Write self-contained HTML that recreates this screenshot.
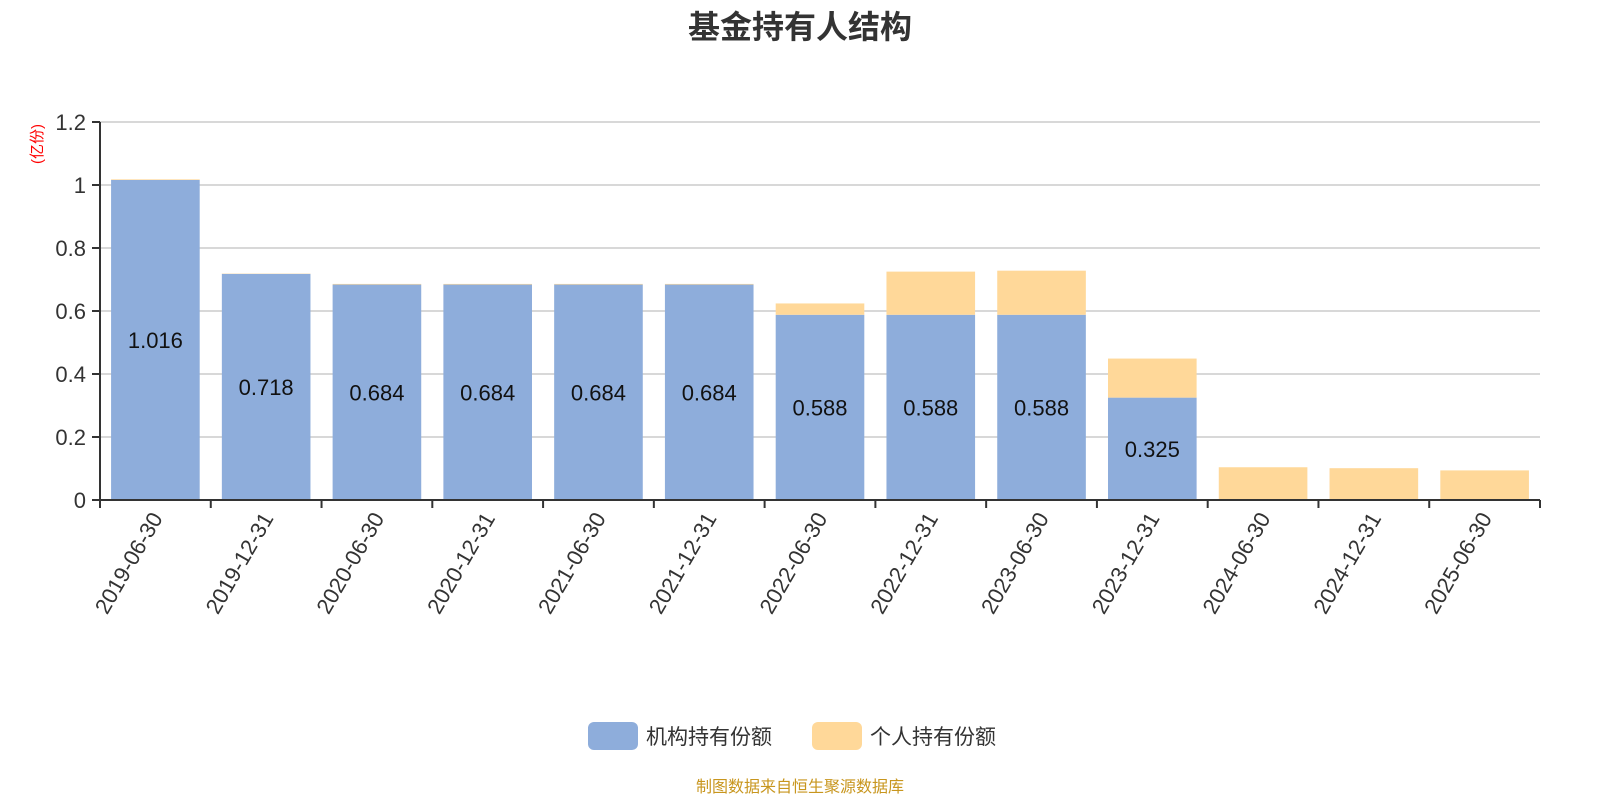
<!DOCTYPE html>
<html><head><meta charset="utf-8"><style>
body{margin:0;background:#fff;}
svg text{font-family:"Liberation Sans","Noto Sans CJK SC",sans-serif;}
</style></head><body>
<svg width="1600" height="800" viewBox="0 0 1600 800" xmlns="http://www.w3.org/2000/svg">
<text x="800" y="38" text-anchor="middle" font-size="32" font-weight="bold" fill="#333">基金持有人结构</text>
<text transform="translate(42,144) rotate(-90)" text-anchor="middle" font-size="15" fill="#f00">(亿份)</text>
<g id="grid"></g><g id="bars"></g><g id="axes"></g>
<g>
<g><rect x="588" y="722" width="50" height="28" rx="6" fill="#8eaddb"/><text x="646" y="744" font-size="21" fill="#333">机构持有份额</text></g>
<g><rect x="812" y="722" width="50" height="28" rx="6" fill="#ffd899"/><text x="870" y="744" font-size="21" fill="#333">个人持有份额</text></g>
</g>
<text x="800" y="792" text-anchor="middle" font-size="16" fill="#c8961e">制图数据来自恒生聚源数据库</text>
</svg>
<script>
const categories=["2019-06-30","2019-12-31","2020-06-30","2020-12-31","2021-06-30","2021-12-31","2022-06-30","2022-12-31","2023-06-30","2023-12-31","2024-06-30","2024-12-31","2025-06-30"];
const institution=[1.016,0.718,0.684,0.684,0.684,0.684,0.588,0.588,0.588,0.325,0,0,0];
const individual=[0.002,0.001,0.002,0.002,0.002,0.002,0.036,0.137,0.140,0.124,0.104,0.101,0.094];
const yTicks=[0,0.2,0.4,0.6,0.8,1,1.2];
const NS="http://www.w3.org/2000/svg";
const x0=100,x1=1540,yBase=500,yTop=122,yMax=1.2;
const band=(x1-x0)/categories.length;
const y=v=>yBase-(v/yMax)*(yBase-yTop);
const xc=i=>x0+band*(i+0.5);
function mk(tag,attrs,parent){const e=document.createElementNS(NS,tag);for(const k in attrs)e.setAttribute(k,attrs[k]);parent.appendChild(e);return e;}
const grid=document.getElementById('grid'),bars=document.getElementById('bars'),axes=document.getElementById('axes');
yTicks.forEach(t=>{
 if(t>0){const l=mk('line',{x1:x0,x2:x1,y1:y(t),y2:y(t),stroke:'#ccc','stroke-width':1.5},grid);
 
 }
 const tk=mk('line',{x1:x0-8,x2:x0,y1:y(t),y2:y(t),stroke:'#333','stroke-width':2},axes);
 
 
 const tx=mk('text',{x:x0-14,y:y(t)+8,'text-anchor':'end','font-size':22,fill:'#333'},axes);
 tx.textContent=String(t);
 
 
});
const bw=band*0.8;
categories.forEach((c,i)=>{
 const a=institution[i],b=individual[i];
 if(a>0){const r=mk('rect',{x:xc(i)-bw/2,y:y(a),width:bw,height:y(0)-y(a),fill:'#8eaddb'},bars);
  
  
  const t=mk('text',{x:xc(i),y:(y(a)+y(0))/2+8,'text-anchor':'middle','font-size':22,fill:'#111'},bars);
  t.textContent=a.toFixed(3).replace(/^1\.0160$/,'1.016');
  
  }
 if(b>0){const r=mk('rect',{x:xc(i)-bw/2,y:y(a+b),width:bw,height:y(a)-y(a+b),fill:'#ffd899'},bars);
  
  }
 const tk=mk('line',{x1:x0+band*i,x2:x0+band*i,y1:yBase,y2:yBase+8,stroke:'#333','stroke-width':2},axes);
 
 
 const tx=mk('text',{transform:`translate(${xc(i)+8},${yBase+18}) rotate(-60)`,'text-anchor':'end','font-size':22,fill:'#333'},axes);
 tx.textContent=c;
 
 
});
const tl=mk('line',{x1:x1,x2:x1,y1:yBase,y2:yBase+8,stroke:'#333','stroke-width':2},axes);


const ya=mk('line',{x1:x0,x2:x0,y1:yTop,y2:yBase,stroke:'#333','stroke-width':2},axes);


const xa=mk('line',{x1:x0,x2:x1,y1:yBase,y2:yBase,stroke:'#333','stroke-width':2},axes);


</script>
</body></html>
